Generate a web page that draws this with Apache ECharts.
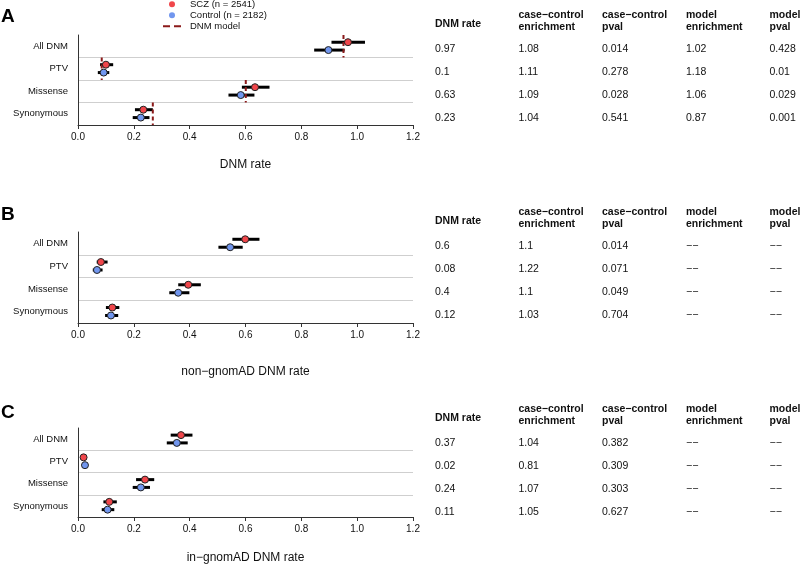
<!DOCTYPE html>
<html><head><meta charset="utf-8">
<script src="https://cdn.jsdelivr.net/npm/echarts@6/dist/echarts.min.js"></script>
<style>html,body{margin:0;padding:0;background:#fff}#c{width:800px;height:565px}</style>
</head><body><div id="c"></div>
<script>
// ---------- data ----------
const categories = ['All DNM', 'PTV', 'Missense', 'Synonymous'];
const xTicks = [0, 0.2, 0.4, 0.6, 0.8, 1.0, 1.2];
const seriesNames = ['SCZ (n = 2541)', 'Control (n = 2182)', 'DNM model'];

// Panel A: DNM rate
const sczA = [0.967, 0.100, 0.634, 0.234];
const sczA_lo = [0.908, 0.079, 0.587, 0.204];
const sczA_hi = [1.028, 0.126, 0.686, 0.268];
const ctrlA = [0.897, 0.092, 0.583, 0.225];
const ctrlA_lo = [0.846, 0.071, 0.539, 0.196];
const ctrlA_hi = [0.955, 0.112, 0.632, 0.256];
const modelA = [0.951, 0.085, 0.601, 0.268];

// Panel B: non-gnomAD DNM rate
const sczB = [0.599, 0.082, 0.395, 0.123];
const sczB_lo = [0.553, 0.067, 0.359, 0.100];
const sczB_hi = [0.650, 0.106, 0.440, 0.148];
const ctrlB = [0.545, 0.068, 0.359, 0.118];
const ctrlB_lo = [0.503, 0.053, 0.327, 0.097];
const ctrlB_hi = [0.590, 0.088, 0.399, 0.144];

// Panel C: in-gnomAD DNM rate
const sczC = [0.369, 0.020, 0.240, 0.112];
const sczC_lo = [0.332, 0.015, 0.208, 0.091];
const sczC_hi = [0.410, 0.025, 0.273, 0.139];
const ctrlC = [0.354, 0.025, 0.225, 0.106];
const ctrlC_lo = [0.318, 0.016, 0.196, 0.085];
const ctrlC_hi = [0.393, 0.036, 0.258, 0.130];

// Tables
const tableHeaders = ['DNM rate', 'case\u2212control\nenrichment', 'case\u2212control\npval', 'model\nenrichment', 'model\npval'];
const rateA = ['0.97', '0.1', '0.63', '0.23'];
const ccEnrA = ['1.08', '1.11', '1.09', '1.04'];
const ccPA = ['0.014', '0.278', '0.028', '0.541'];
const modEnrA = ['1.02', '1.18', '1.06', '0.87'];
const modPA = ['0.428', '0.01', '0.029', '0.001'];

const rateB = ['0.6', '0.08', '0.4', '0.12'];
const ccEnrB = ['1.1', '1.22', '1.1', '1.03'];
const ccPB = ['0.014', '0.071', '0.049', '0.704'];
const modEnrB = ['\u2212\u2212', '\u2212\u2212', '\u2212\u2212', '\u2212\u2212'];
const modPB = ['\u2212\u2212', '\u2212\u2212', '\u2212\u2212', '\u2212\u2212'];

const rateC = ['0.37', '0.02', '0.24', '0.11'];
const ccEnrC = ['1.04', '0.81', '1.07', '1.05'];
const ccPC = ['0.382', '0.309', '0.303', '0.627'];
const modEnrC = ['\u2212\u2212', '\u2212\u2212', '\u2212\u2212', '\u2212\u2212'];
const modPC = ['\u2212\u2212', '\u2212\u2212', '\u2212\u2212', '\u2212\u2212'];

const axisTitles = ['DNM rate', 'non\u2212gnomAD DNM rate', 'in\u2212gnomAD DNM rate'];
const panelLetters = ['A', 'B', 'C'];

// ---------- layout / style ----------
const FONT = '"Liberation Sans", Arial, Helvetica, sans-serif';
const RED = '#F0464B';
const BLUE = '#7196EE';
const MODEL = '#8B1A1A';
const grids = [
  { left: 78, top: 35, width: 335, height: 90, nameGap: 34 },
  { left: 78, top: 232, width: 335, height: 91, nameGap: 43 },
  { left: 78, top: 428, width: 335, height: 90, nameGap: 35 }
];
const OFF_SCZ = -0.18, OFF_CTRL = 0.17;
const tableCols = [435, 518.5, 602, 686, 769.5];
const tableLayout = [
  { headerY: 21, rateHeaderY: 24, rowY0: 49.5, step: 23 },
  { headerY: 218.5, rateHeaderY: 220.7, rowY0: 246, step: 23 },
  { headerY: 415.5, rateHeaderY: 417.7, rowY0: 442.7, step: 23 }
];
const letterY = [17, 215, 413];

const panels = [
  { scz: sczA, sLo: sczA_lo, sHi: sczA_hi, ctrl: ctrlA, cLo: ctrlA_lo, cHi: ctrlA_hi, model: modelA,
    table: [rateA, ccEnrA, ccPA, modEnrA, modPA] },
  { scz: sczB, sLo: sczB_lo, sHi: sczB_hi, ctrl: ctrlB, cLo: ctrlB_lo, cHi: ctrlB_hi, model: null,
    table: [rateB, ccEnrB, ccPB, modEnrB, modPB] },
  { scz: sczC, sLo: sczC_lo, sHi: sczC_hi, ctrl: ctrlC, cLo: ctrlC_lo, cHi: ctrlC_hi, model: null,
    table: [rateC, ccEnrC, ccPC, modEnrC, modPC] }
];

const option = {
  backgroundColor: '#fff',
  animation: false,
  textStyle: { fontFamily: FONT },
  grid: [], xAxis: [], yAxis: [], series: [], graphic: []
};

function errRender(params, api) {
  const a = api.coord([api.value(0), api.value(2)]);
  const b = api.coord([api.value(1), api.value(2)]);
  return { type: 'line', shape: { x1: a[0], y1: a[1], x2: b[0], y2: b[1] },
           style: { stroke: '#000', lineWidth: 3 } };
}
function modelRender(params, api) {
  const a = api.coord([api.value(0), api.value(1)]);
  const b = api.coord([api.value(0), api.value(2)]);
  return { type: 'line', shape: { x1: a[0], y1: a[1], x2: b[0], y2: b[1] },
           style: { stroke: MODEL, lineWidth: 2, lineDash: [4, 3] } };
}

const NONE = 'rgba(0,0,0,0)';
const GRID_C = '#cfcfcf';

panels.forEach((p, k) => {
  const g = grids[k];
  option.grid.push({ left: g.left, top: g.top, width: g.width, height: g.height, containLabel: false });
  option.xAxis.push({
    gridIndex: k, type: 'value', position: 'bottom',
    min: xTicks[0], max: xTicks[xTicks.length - 1], interval: 0.2,
    name: axisTitles[k], nameLocation: 'middle', nameGap: g.nameGap,
    nameTextStyle: { fontSize: 12, color: '#111', fontFamily: FONT },
    axisLine: { show: true, onZero: false, lineStyle: { color: '#333', width: 1 } },
    axisTick: { show: true, length: 4, lineStyle: { color: '#333' } },
    axisLabel: { fontSize: 10, color: '#111', margin: 7, fontFamily: FONT,
                 formatter: v => v.toFixed(1) },
    splitLine: { show: false }
  });
  option.yAxis.push({
    gridIndex: k, type: 'value', inverse: true, min: 0, max: categories.length, interval: 0.5,
    axisLine: { show: true, onZero: false, lineStyle: { color: '#333', width: 1 } },
    axisTick: { show: false },
    axisLabel: { fontSize: 9.5, color: '#111', margin: 10, fontFamily: FONT,
                 formatter: v => (Math.abs(v % 1 - 0.5) < 1e-6) ? categories[Math.floor(v)] : '' },
    splitLine: { show: true, lineStyle: { width: 1,
      color: [NONE, NONE, GRID_C, NONE, GRID_C, NONE, GRID_C, NONE, NONE] } }
  });

  const errData = [];
  categories.forEach((c, i) => {
    errData.push([p.sLo[i], p.sHi[i], i + 0.5 + OFF_SCZ]);
    errData.push([p.cLo[i], p.cHi[i], i + 0.5 + OFF_CTRL]);
  });
  option.series.push({ type: 'custom', xAxisIndex: k, yAxisIndex: k, renderItem: errRender,
    data: errData, encode: { x: [0, 1], y: 2 }, silent: true, z: 2 });

  if (p.model) {
    option.series.push({ name: seriesNames[2], type: 'custom', xAxisIndex: k, yAxisIndex: k,
      renderItem: modelRender, itemStyle: { color: MODEL },
      data: p.model.map((v, i) => [v, i, i + 1]), encode: { x: 0, y: [1, 2] }, z: 3 });
  }

  option.series.push({ name: seriesNames[0], type: 'scatter', xAxisIndex: k, yAxisIndex: k,
    symbol: 'circle', symbolSize: 7,
    itemStyle: { color: RED, borderColor: '#222', borderWidth: 1, opacity: 1 },
    data: p.scz.map((v, i) => [v, i + 0.5 + OFF_SCZ]), z: 4 });
  option.series.push({ name: seriesNames[1], type: 'scatter', xAxisIndex: k, yAxisIndex: k,
    symbol: 'circle', symbolSize: 7,
    itemStyle: { color: BLUE, borderColor: '#222', borderWidth: 1, opacity: 1 },
    data: p.ctrl.map((v, i) => [v, i + 0.5 + OFF_CTRL]), z: 4 });

  // panel letter
  option.graphic.push({ type: 'text', left: 1, top: letterY[k] - 10,
    style: { text: panelLetters[k], font: 'bold 19px ' + FONT, fill: '#000' } });

  // table
  const t = tableLayout[k];
  tableHeaders.forEach((h, j) => {
    option.graphic.push({ type: 'text', x: tableCols[j], y: j === 0 ? t.rateHeaderY : t.headerY,
      style: { text: h, font: 'bold 10.5px ' + FONT, fill: '#111', textVerticalAlign: 'middle',
               textAlign: 'left', lineHeight: 12 } });
  });
  p.table.forEach((col, j) => {
    col.forEach((val, i) => {
      option.graphic.push({ type: 'text', x: tableCols[j], y: t.rowY0 + i * t.step,
        style: { text: val, font: '10.5px ' + FONT, fill: '#111', textVerticalAlign: 'middle', textAlign: 'left' } });
    });
  });
});

option.legend = {
  orient: 'vertical', left: 163, top: -1, padding: 0, itemWidth: 18, itemHeight: 6, itemGap: 0.5,
  textStyle: { fontSize: 9.5, lineHeight: 10.5, color: '#111', fontFamily: FONT, padding: [0, 0, 0, 4] },
  data: [
    { name: seriesNames[0], icon: 'circle', itemStyle: { color: RED, borderWidth: 0 } },
    { name: seriesNames[1], icon: 'circle', itemStyle: { color: BLUE, borderWidth: 0 } },
    { name: seriesNames[2], icon: 'path://M0,0h7v2H0zM11,0h7v2h-7z', itemStyle: { color: MODEL, borderWidth: 0 } }
  ],
  selectedMode: false
};

const chart = echarts.init(document.getElementById('c'), null, { renderer: 'canvas' });
chart.setOption(option);
</script>
</body></html>
